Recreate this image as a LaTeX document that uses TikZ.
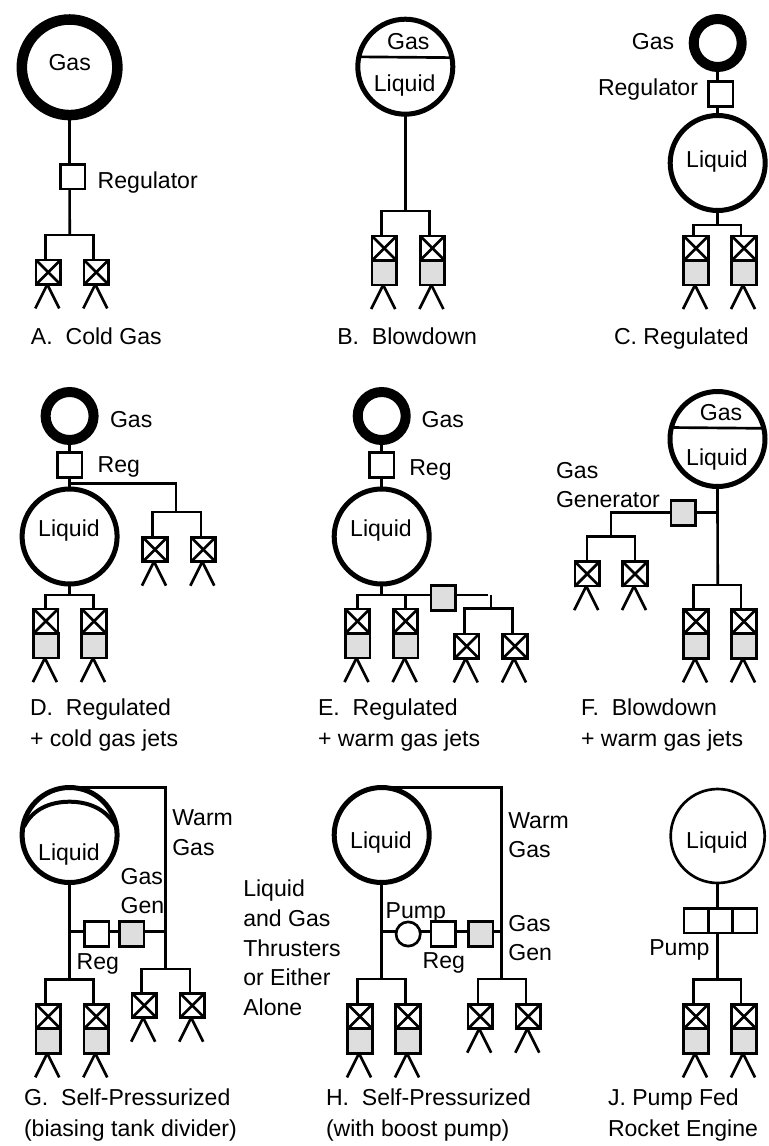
\documentclass[tikz,border=0pt]{standalone}
\usepackage{fontspec}
\setmainfont{Liberation Sans}
\usepackage{xcolor}
\definecolor{jetgray}{HTML}{DEDEDE}
%thruster with the supply point #1t: name, supply x, box x, top y
\newcommand{\coldjet}[4]{
	\coordinate (#1t) at (#2,#4);
	\node[xbox] (#1) at (#3,#4+12.2) {};
	\draw[line cap=round] (#1.north west) -- (#1.south east);
	\draw[line cap=round] (#1.north east) -- (#1.south west);
	\draw (#1.south) ++(-1,0) -- ++(-12,24);
	\draw (#1.south) ++(-1,0) -- ++(12,24);
}
\newcommand{\liquidjet}[4]{
	\coordinate (#1t) at (#2,#4);
	\node[xbox] (#1) at (#3,#4+12.2) {};
	\node[graybox,anchor=north] (#1g) at (#1.south) {};
	\draw[line cap=round] (#1.north west) -- (#1.south east);
	\draw[line cap=round] (#1.north east) -- (#1.south west);
	\draw (#1g.south) ++(-1,0) -- ++(-12,24);
	\draw (#1g.south) ++(-1,0) -- ++(12,24);
}
\begin{document}
\begin{tikzpicture}[x=0.75pt,y=-0.75pt,line width=2pt,
	every node/.style={inner sep=0pt,outer sep=0pt},
	lbl/.style={font=\fontsize{17.3}{20}\selectfont,anchor=base west},
	clbl/.style={font=\fontsize{17.3}{20}\selectfont,anchor=base},
	box/.style={rectangle,draw,fill=white,minimum size=18.5pt},
	graybox/.style={rectangle,draw,fill=jetgray,minimum size=18.5pt},
	xbox/.style={rectangle,draw,fill=white,minimum size=18.3pt},
	bigring/.style={circle,draw,fill=white,line width=7.9pt,minimum size=71.7pt},
	smallring/.style={circle,draw,fill=white,line width=7.5pt,minimum size=36pt},
	tank/.style={circle,draw,fill=white,line width=3.75pt,minimum size=71.25pt},
	thintank/.style={circle,draw,fill=white,line width=2pt,minimum size=70.5pt},
	]
	\useasboundingbox (0,0) rectangle (768,1146);
	%A
	\node[bigring] (ringA) at (69.6,67.3) {};
	\node[clbl] (gasA) at (69.7,70.7) {Gas};
	\node[box] (regA) at (72.7,176.7) {};
	\coordinate (jA) at (69.7,235);
	\coldjet{a1}{45.7}{48.3}{260}
	\coldjet{a2}{93.7}{96.3}{260}
	\draw (ringA.south) -- (ringA.south |- regA.north);
	\draw (ringA.south |- regA.south) -- (jA);
	\draw (a1t) |- (jA) -| (a2t);
	\node[lbl] (regtextA) at (97.7,188.3) {Regulator};
	\node[lbl] (capA) at (31,344.3) {A.\ \ Cold Gas};
	%B
	\node[tank] (tankB) at (405.3,66.7) {};
	\draw (tankB.168.6) -- (tankB.11.4);
	\node[clbl] (gasB) at (408.3,49) {Gas};
	\node[clbl] (liqB) at (404.7,91.7) {Liquid};
	\coordinate (jB) at (405.3,211);
	\liquidjet{b1}{381.7}{384.2}{236}
	\liquidjet{b2}{429.7}{432.4}{236}
	\draw (tankB.south) -- (jB);
	\draw (b1t) |- (jB) -| (b2t);
	\node[lbl] (capB) at (337.3,344.3) {B.\ \ Blowdown};
	%C
	\node[smallring] (ringC) at (717.7,43) {};
	\node[box] (regC) at (720.5,94) {};
	\node[tank] (tankC) at (717.7,163) {};
	\coordinate (jC) at (717.7,225);
	\liquidjet{c1}{693.3}{696}{236}
	\liquidjet{c2}{741}{744}{236}
	\draw (ringC.south) -- (ringC.south |- regC.north);
	\draw (tankC.north |- regC.south) -- (tankC.north);
	\draw (tankC.south) -- (jC);
	\draw (c1t) |- (jC) -| (c2t);
	\node[clbl] (gasC) at (653,49) {Gas};
	\node[lbl] (regtextC) at (598,95) {Regulator};
	\node[clbl] (liqC) at (717,167) {Liquid};
	\node[lbl] (capC) at (614,344.3) {C. Regulated};
	%D
	\node[smallring] (ringD) at (69.6,416) {};
	\node[box] (regD) at (69.6,465) {};
	\node[tank] (tankD) at (69.6,536.5) {};
	\coordinate (bD) at (69.6,483.3);
	\coordinate (kD) at (176,512);
	\coordinate (jD) at (69.6,595);
	\coldjet{d3}{152.3}{155}{537.3}
	\coldjet{d4}{201}{203.3}{537.3}
	\liquidjet{d1}{45.7}{45.9}{609}
	\liquidjet{d2}{93.7}{94}{609}
	\draw (ringD) -- (regD);
	\draw (regD) -- (tankD);
	\draw (bD) -| (kD);
	\draw (d3t) |- (kD) -| (d4t);
	\draw (tankD.south) -- (jD);
	\draw (d1t) |- (jD) -| (d2t);
	\node[lbl] (gasD) at (110,427) {Gas};
	\node[lbl] (regtextD) at (97.7,472) {Reg};
	\node[clbl] (liqD) at (69,536.7) {Liquid};
	\node[lbl] (capD) at (30,715) {D.\ \ Regulated};
	\node[lbl] (capDb) at (30,746) {+ cold gas jets};
	%E
	\node[smallring] (ringE) at (381.7,416) {};
	\node[box] (regE) at (381.7,465) {};
	\node[tank] (tankE) at (381.7,536.5) {};
	\coordinate (jE) at (381.7,595);
	\coordinate (eE) at (488.3,595);
	\coordinate (sE) at (491,595);
	\coordinate (kE) at (491,608.3);
	\liquidjet{e1}{357.3}{357.5}{609}
	\liquidjet{e2}{405.3}{405.6}{609}
	\coldjet{e3}{464.3}{466.7}{634}
	\coldjet{e4}{512.3}{515}{634}
	\draw (ringE) -- (regE);
	\draw (regE) -- (tankE);
	\draw (tankE.south) -- (jE);
	\draw (e1t) |- (eE);
	\draw (jE -| e2t) -- (e2t);
	\draw (sE) -- (kE);
	\draw (e3t) |- (kE) -| (e4t);
	\node[graybox] (genE) at (443.2,598) {};
	\node[lbl] (gasE) at (421.7,427) {Gas};
	\node[lbl] (regtextE) at (409.3,475.7) {Reg};
	\node[clbl] (liqE) at (381,536.7) {Liquid};
	\node[lbl] (capE) at (318,715) {E.\ \ Regulated};
	\node[lbl] (capEb) at (318,746) {+ warm gas jets};
	%F
	\node[tank] (tankF) at (717.5,439) {};
	\draw (tankF.166.1) -- (tankF.13.9);
	\node[clbl] (gasF) at (721,420) {Gas};
	\node[clbl] (liqF) at (717,465) {Liquid};
	\coordinate (bF) at (717.7,512.7);
	\coordinate (kF) at (611,536.7);
	\coordinate (jF) at (717.7,585);
	\coldjet{f3}{587}{587.2}{561.7}
	\coldjet{f4}{635}{635}{561.7}
	\liquidjet{f1}{693.3}{696}{609.3}
	\liquidjet{f2}{741}{744}{609.3}
	\draw (tankF.south) -- (jF);
	\draw (f1t) |- (jF) -| (f2t);
	\draw (bF) -| (kF);
	\draw (f3t) |- (kF) -| (f4t);
	\node[graybox] (genF) at (683.2,513) {};
	\node[lbl] (gentextF) at (556,478) {Gas};
	\node[lbl] (gentextFb) at (556,507) {Generator};
	\node[lbl] (capF) at (581,715) {F.\ \ Blowdown};
	\node[lbl] (capFb) at (581,746) {+ warm gas jets};
	%G
	\node[tank] (tankG) at (69.6,835) {};
	\draw[line width=3pt] (24,826.7) .. controls (33,808) and (52,801.7) .. (69.6,801.7) .. controls (87,801.7) and (106,808) .. (116,826.7);
	\coordinate (bG) at (69.6,931.3);
	\coordinate (cG) at (165.7,931.3);
	\coordinate (kG) at (165.7,969);
	\coordinate (jG) at (69.6,979.7);
	\liquidjet{g1}{45.7}{48.3}{1004.3}
	\liquidjet{g2}{93.7}{96.3}{1004.3}
	\coldjet{g3}{141.7}{144.2}{993.3}
	\coldjet{g4}{190}{192.2}{993.3}
	\draw (tankG.south) -- (jG);
	\draw (g1t) |- (jG) -| (g2t);
	\draw (tankG.north) -| (kG);
	\draw (bG) -- (cG);
	\draw (g3t) |- (kG) -| (g4t);
	\node[box] (regG) at (96.7,934) {};
	\node[graybox] (genG) at (131.5,934) {};
	\node[clbl] (liqG) at (69,860) {Liquid};
	\node[lbl] (warmG) at (172.3,825) {Warm};
	\node[lbl] (warmGb) at (172.3,855) {Gas};
	\node[lbl] (gentextG) at (120.7,884) {Gas};
	\node[lbl] (gentextGb) at (120.7,913) {Gen};
	\node[lbl] (regtextG) at (76.7,969.3) {Reg};
	\node[lbl] (capG) at (24,1105) {G.\ \ Self-Pressurized};
	\node[lbl] (capGb) at (24,1136) {(biasing tank divider)};
	%H
	\node[tank] (tankH) at (381.7,835) {};
	\node[clbl] (liqH) at (381,848.7) {Liquid};
	\coordinate (bH) at (381.7,931.3);
	\coordinate (cH) at (501.3,931.3);
	\coordinate (kH) at (501.3,979);
	\coordinate (jH) at (381.7,979);
	\liquidjet{h1}{357.3}{360}{1004.3}
	\liquidjet{h2}{405.3}{408}{1004.3}
	\coldjet{h3}{478}{480.2}{1004.3}
	\coldjet{h4}{526}{528.3}{1004.3}
	\draw (tankH.south) -- (jH);
	\draw (h1t) |- (jH) -| (h2t);
	\draw (tankH.north) -| (kH);
	\draw (bH) -- (cH);
	\draw (h3t) |- (kH) -| (h4t);
	\node[circle,draw,fill=white,minimum size=18.2pt] (pumpH) at (408.2,934) {};
	\node[box] (regH) at (443.3,934) {};
	\node[graybox] (genH) at (480.7,934) {};
	\node[lbl] (sideH) at (243.3,896.7) {Liquid};
	\node[lbl] (sideHb) at (243.3,926.7) {and Gas};
	\node[lbl] (sideHc) at (243.3,956) {Thrusters};
	\node[lbl] (sideHd) at (243.3,985) {or Either};
	\node[lbl] (sideHe) at (243.3,1015) {Alone};
	\node[lbl] (pumptextH) at (385.7,918.3) {Pump};
	\node[lbl] (regtextH) at (422.7,968.3) {Reg};
	\node[lbl] (warmH) at (508.3,828.3) {Warm};
	\node[lbl] (warmHb) at (508.3,857.3) {Gas};
	\node[lbl] (gentextH) at (508.3,931.7) {Gas};
	\node[lbl] (gentextHb) at (508.3,960.7) {Gen};
	\node[lbl] (capH) at (326,1105) {H.\ \ Self-Pressurized};
	\node[lbl] (capHb) at (326,1136) {(with boost pump)};
	%J
	\node[thintank] (tankJ) at (717.7,836) {};
	\node[clbl] (liqJ) at (717,848.7) {Liquid};
	\node[box] (pumpJa) at (696.4,920.5) {};
	\node[box] (pumpJb) at (720.6,920.5) {};
	\node[box] (pumpJc) at (744.8,920.5) {};
	\coordinate (jJ) at (717.7,979.3);
	\liquidjet{j1}{693.3}{696}{1004.3}
	\liquidjet{j2}{741}{744}{1004.3}
	\draw (tankJ.south) -- (tankJ.south |- pumpJb.north);
	\draw (tankJ.south |- pumpJb.south) -- (jJ);
	\draw (j1t) |- (jJ) -| (j2t);
	\node[lbl] (pumptextJ) at (649.3,955.7) {Pump};
	\node[lbl] (capJ) at (608,1105) {J. Pump Fed};
	\node[lbl] (capJb) at (608,1136) {Rocket Engine};
\end{tikzpicture}
\end{document}
